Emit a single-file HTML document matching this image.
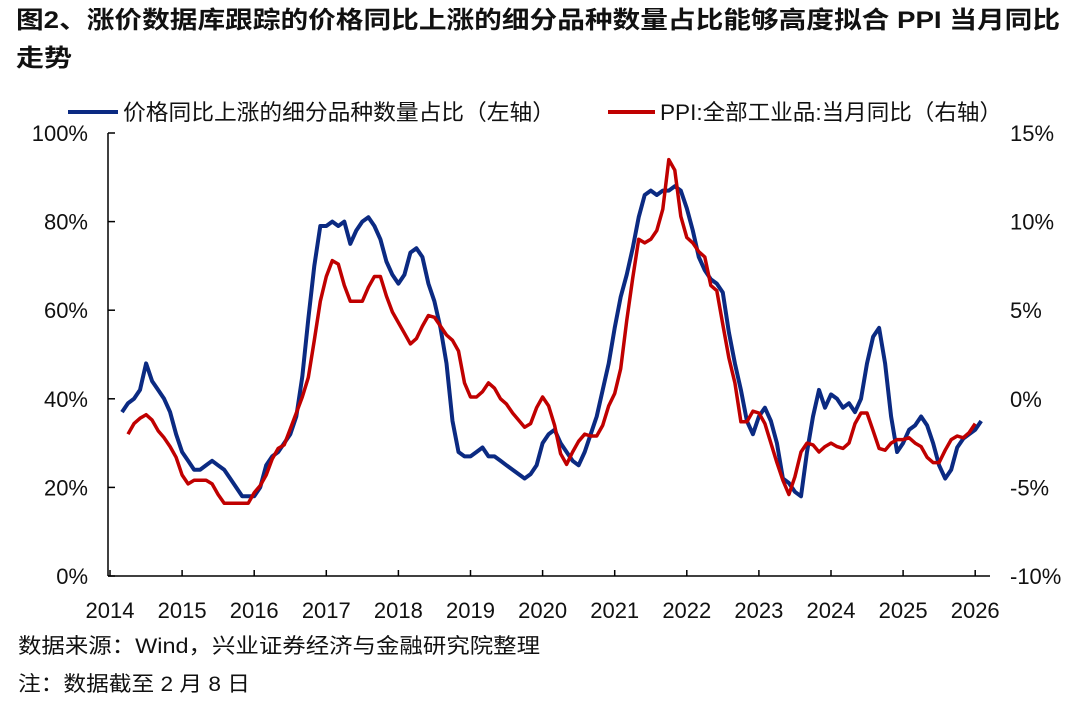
<!DOCTYPE html>
<html><head><meta charset="utf-8">
<style>
body{margin:0;background:#fff;width:1080px;height:697px;overflow:hidden;font-family:"Liberation Sans","Noto Sans CJK SC",sans-serif;}
</style></head>
<body>
<svg id="chart" width="1080" height="697" xmlns="http://www.w3.org/2000/svg" font-family="Liberation Sans, Noto Sans CJK SC, sans-serif">
<text x="16" y="28" font-size="24" font-weight="bold" fill="#111" textLength="1044" lengthAdjust="spacingAndGlyphs">图2、涨价数据库跟踪的价格同比上涨的细分品种数量占比能够高度拟合 PPI 当月同比</text>
<text x="16" y="66" font-size="24" font-weight="bold" fill="#111" textLength="56" lengthAdjust="spacingAndGlyphs">走势</text>
<g>
<line x1="68" y1="112" x2="118" y2="112" stroke="#0b2a82" stroke-width="4"/>
<text x="123" y="120" font-size="22" fill="#111" textLength="432" lengthAdjust="spacingAndGlyphs">价格同比上涨的细分品种数量占比（左轴）</text>
<line x1="608" y1="112" x2="655" y2="112" stroke="#c00000" stroke-width="4"/>
<text x="660" y="120" font-size="22" fill="#111" textLength="342" lengthAdjust="spacingAndGlyphs">PPI:全部工业品:当月同比（右轴）</text>
</g>
<g id="axes"></g>
<g id="series"></g>
<text x="18" y="653" font-size="21" fill="#111" textLength="522" lengthAdjust="spacingAndGlyphs">数据来源：Wind，兴业证券经济与金融研究院整理</text>
<text x="18" y="691" font-size="21" fill="#111" textLength="232" lengthAdjust="spacingAndGlyphs">注：数据截至 2 月 8 日</text>
</svg>
<script>
const years=[2014,2015,2016,2017,2018,2019,2020,2021,2022,2023,2024,2025,2026];
const leftTicks=[0,20,40,60,80,100];
const rightTicks=[-10,-5,0,5,10,15];
// blue: share of items with rising prices (%), monthly from Mar 2014
const blueStart=[2014,2];
const blueValues=[37,39,40,42,48,44,42,40,37,32,
28,26,24,24,25,26,25,24,22,20,18,18,
18,20,25,27,28,30,32,36,45,58,70,79,
79,80,79,80,75,78,80,81,79,76,71,68,
66,68,73,74,72,66,62,56,48,35,28,27,
27,28,29,27,27,26,25,24,23,22,23,25,
30,32,33,30,28,26,25,28,32,36,42,48,
56,63,68,74,81,86,87,86,87,87,88,87,
83,78,72,69,67,66,64,55,48,42,35,32,
36,38,35,30,22,21,19,18,28,36,42,38,
41,40,38,39,37,40,48,54,56,48,36,28,
30,33,34,36,34,30,25,22,24,29,31,32,
33,35];
// red: PPI y/y (%), monthly from Apr 2014
const redStart=[2014,3];
const redValues=[-2.0,-1.4,-1.1,-0.9,-1.2,-1.8,-2.2,-2.7,-3.3,
-4.3,-4.8,-4.6,-4.6,-4.6,-4.8,-5.4,-5.9,-5.9,-5.9,-5.9,-5.9,
-5.3,-4.9,-4.3,-3.4,-2.8,-2.6,-1.7,-0.8,0.1,1.2,3.3,5.5,
6.9,7.8,7.6,6.4,5.5,5.5,5.5,6.3,6.9,6.9,5.8,4.9,
4.3,3.7,3.1,3.4,4.1,4.7,4.6,4.1,3.6,3.3,2.7,0.9,
0.1,0.1,0.4,0.9,0.6,0.0,-0.3,-0.8,-1.2,-1.6,-1.4,-0.5,
0.1,-0.4,-1.5,-3.1,-3.7,-3.0,-2.4,-2.0,-2.1,-2.1,-1.5,-0.4,
0.3,1.7,4.4,6.8,9.0,8.8,9.0,9.5,10.7,13.5,12.9,10.3,
9.1,8.8,8.3,8.0,6.4,6.1,4.2,2.3,0.9,-1.3,-1.3,-0.7,
-0.8,-1.4,-2.5,-3.6,-4.6,-5.4,-4.4,-3.0,-2.5,-2.6,-3.0,-2.7,
-2.5,-2.7,-2.8,-2.5,-1.4,-0.8,-0.8,-1.8,-2.8,-2.9,-2.5,-2.3,
-2.3,-2.2,-2.5,-2.7,-3.3,-3.6,-3.6,-2.9,-2.3,-2.1,-2.2,-1.9,
-1.4];
const NS="http://www.w3.org/2000/svg";
const X0=110,YW=72.1,Y0=576,PH=443;
const xScale=t=>X0+(t-2014)*YW;
const yLeft=v=>Y0-v/100*PH;
const yRight=v=>Y0-(v+10)/25*PH;
function mk(tag,attrs,parent){const e=document.createElementNS(NS,tag);for(const k in attrs)e.setAttribute(k,attrs[k]);parent.appendChild(e);return e;}
const ax=document.getElementById('axes');
let e;
e=mk('line',{x1:108,y1:133,x2:108,y2:576,stroke:'#000','stroke-width':1.5},ax);


e=mk('line',{x1:108,y1:576,x2:990,y2:576,stroke:'#000','stroke-width':1.5},ax);


leftTicks.forEach(v=>{
 const y=yLeft(v);
 let t=mk('line',{x1:108,y1:y,x2:115,y2:y,stroke:'#000','stroke-width':1.5},ax);
 
 
 let l=mk('text',{x:88,y:y+8,'font-size':22,'text-anchor':'end',fill:'#111'},ax);
 l.textContent=v+'%';
 
 
});
rightTicks.forEach(v=>{
 const y=yRight(v);
 let l=mk('text',{x:1010,y:y+8,'font-size':22,fill:'#111'},ax);
 l.textContent=v+'%';
 
 
});
years.forEach(yr=>{
 const x=xScale(yr);
 let t=mk('line',{x1:x,y1:576,x2:x,y2:570,stroke:'#000','stroke-width':1.5},ax);
 
 
 let l=mk('text',{x:x,y:618,'font-size':22,'text-anchor':'middle',fill:'#111'},ax);
 l.textContent=yr;
 
 
});
const sg=document.getElementById('series');
function pts(start,vals,ys){return vals.map((v,i)=>{const t=start[0]+(start[1]+i)/12;return xScale(t).toFixed(1)+','+ys(v).toFixed(1);}).join(' ');}
e=mk('polyline',{points:pts(blueStart,blueValues,yLeft),fill:'none',stroke:'#0b2a82','stroke-width':4,'stroke-linejoin':'round'},sg);


e=mk('polyline',{points:pts(redStart,redValues,yRight),fill:'none',stroke:'#c00000','stroke-width':3.5,'stroke-linejoin':'round'},sg);


</script>
</body></html>
